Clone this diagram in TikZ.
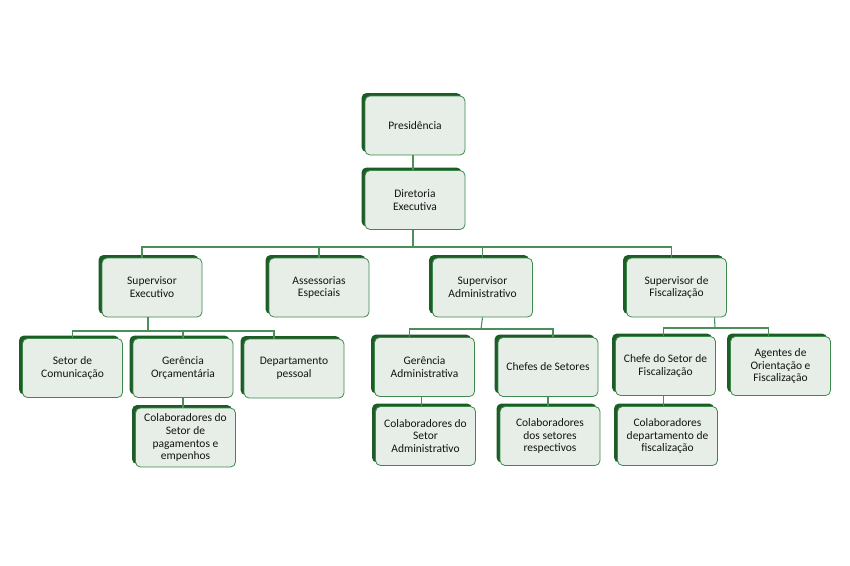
\documentclass[tikz,border=0pt]{standalone}
\usepackage{fontspec}
\setmainfont{Carlito}
\usepackage{xcolor}
\usepackage{tikz}
\usetikzlibrary{shadows}

\definecolor{boxfill}{HTML}{E6EEE7}
\definecolor{boxline}{HTML}{3D8A4C}
\definecolor{boxdark}{HTML}{1D5C27}
\definecolor{linkcol}{HTML}{4C8F5A}

\begin{document}
\begin{tikzpicture}[x=1pt, y=-1pt, font=\fontsize{11.5}{12.9}\selectfont,
  cargo/.style={draw=boxline, line width=0.8pt, fill=boxfill, rounded corners=5pt,
    minimum width=100pt, minimum height=59pt, align=center, inner sep=2pt, text=black!92,
    drop shadow={shadow xshift=-3.5pt, shadow yshift=3pt, fill=boxdark, opacity=1}},
  link/.style={draw=linkcol, line width=1.1pt}]

  \useasboundingbox (0,0) rectangle (850,565);

  % ----------------------
  % Topo
  % ----------------------
  \node[cargo] (pres)  at (415,125.5) {Presidência};
  \node[cargo] (diret) at (415,200)   {Diretoria\\Executiva};

  % ----------------------
  % Supervisores e assessorias
  % ----------------------
  \node[cargo] (supexec) at (152,287.5)   {Supervisor\\Executivo};
  \node[cargo] (assess)  at (319,287.5)   {Assessorias\\Especiais};
  \node[cargo] (supadm)  at (482.5,287.5) {Supervisor\\Administrativo};
  \node[cargo] (supfisc) at (676.5,287.5) {Supervisor de\\Fiscalização};

  % ----------------------
  % Ramo executivo
  % ----------------------
  \node[cargo] (setcom) at (72.5,368)    {Setor de\\Comunicação};
  \node[cargo] (gerorc) at (183,368)     {Gerência\\Orçamentária};
  \node[cargo] (deppes) at (294,368.5)   {Departamento\\pessoal};
  \node[cargo] (colpag) at (185.5,437.5) {Colaboradores do\\Setor de\\pagamentos e\\empenhos};

  % ----------------------
  % Ramo administrativo
  % ----------------------
  \node[cargo] (geradm)  at (424.5,367) {Gerência\\Administrativa};
  \node[cargo] (chefset) at (548,367)   {Chefes de Setores};
  \node[cargo] (coladm)  at (425.5,436) {Colaboradores do\\Setor\\Administrativo};
  \node[cargo] (colset)  at (550,436)   {Colaboradores\\dos setores\\respectivos};

  % ----------------------
  % Ramo de fiscalização
  % ----------------------
  \node[cargo] (chefisc) at (665.5,366) {Chefe do Setor de\\Fiscalização};
  \node[cargo] (agentes) at (780.5,366) {Agentes de\\Orientação e\\Fiscalização};
  \node[cargo] (colfisc) at (667.5,436) {Colaboradores\\departamento de\\fiscalização};

  % ----------------------
  % Ligações
  % ----------------------
  \coordinate (bus1) at (413,247);
  \coordinate (bus2) at (148,331);
  \coordinate (bus3) at (481,329);
  \coordinate (bus4) at (715,328);

  \draw[link] ([xshift=-2pt]pres.south) -- ([xshift=-2pt]diret.north);
  \draw[link] ([xshift=-2pt]diret.south) -- (bus1);
  \draw[link] ([xshift=-10pt]supexec.north) |- (bus1) -| ([xshift=-5pt]supfisc.north);
  \foreach \n in {assess, supadm}
    \draw[link] (\n.north) -- (\n.north |- bus1);

  \draw[link] ([xshift=-4pt]supexec.south) -- (bus2);
  \draw[link] (setcom.north) |- (bus2) -| ([xshift=-20pt]deppes.north);
  \draw[link] (gerorc.north) -- (gerorc.north |- bus2);
  \draw[link] (gerorc.south) -- (gerorc.south |- colpag.north);

  \draw[link] (supadm.south) -- (bus3);
  \draw[link] ([xshift=-15pt]geradm.north) |- (bus3) -| ([xshift=5pt]chefset.north);
  \draw[link] ([xshift=-3pt]geradm.south) -- ([xshift=-3pt]geradm.south |- coladm.north);
  \draw[link] (chefset.south) -- (chefset.south |- colset.north);

  \draw[link] ([xshift=38pt]supfisc.south) -- (bus4);
  \draw[link] ([xshift=-2pt]chefisc.north) |- (bus4) -| ([xshift=-12pt]agentes.north);
  \draw[link] ([xshift=-2pt]chefisc.south) -- ([xshift=-2pt]chefisc.south |- colfisc.north);

\end{tikzpicture}
\end{document}
